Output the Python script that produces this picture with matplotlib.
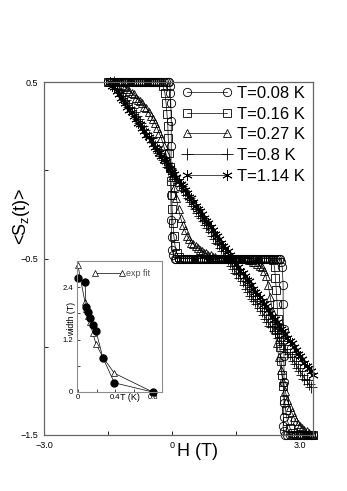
import numpy as np
import matplotlib
matplotlib.use('Agg')
from matplotlib import pyplot as plt
from matplotlib.ticker import FixedLocator

plt.rcParams['font.family'] = ['Liberation Sans', 'DejaVu Sans']
plt.rcParams['axes.unicode_minus'] = True

# ---- main panel data: <Sz(t)> vs H (T) ----
labels = ['T=0.08 K', 'T=0.16 K', 'T=0.27 K', 'T=0.8 K', 'T=1.14 K']

# field sweep points (T)
h_grid = [-1.5, -1.45, -1.4, -1.35, -1.3, -1.25, -1.2, -1.15, -1.1, -1.05,
          -1.0, -0.95, -0.9, -0.85, -0.8, -0.75, -0.7, -0.65, -0.6, -0.55,
          -0.5, -0.45, -0.4, -0.35, -0.3, -0.25, -0.2, -0.15, -0.1, -0.05,
          0.0, 0.05, 0.1, 0.15, 0.2, 0.25, 0.3, 0.35, 0.4, 0.45,
          0.5, 0.55, 0.6, 0.65, 0.7, 0.75, 0.8, 0.85, 0.9, 0.95,
          1.0, 1.05, 1.1, 1.15, 1.2, 1.25, 1.3, 1.35, 1.4, 1.45,
          1.5, 1.55, 1.6, 1.65, 1.7, 1.75, 1.8, 1.85, 1.9, 1.95,
          2.0, 2.05, 2.1, 2.15, 2.2, 2.25, 2.3, 2.35, 2.4, 2.45,
          2.5, 2.55, 2.6, 2.65, 2.7, 2.75, 2.8, 2.85, 2.9, 2.95,
          3.0, 3.05, 3.1, 3.15, 3.2, 3.25, 3.3]

# T = 0.08 K : flat parts on the sweep + points on the two steps
step1_h_008 = [-0.07, -0.05, -0.04, -0.03, -0.02, -0.02, -0.03, -0.03, -0.02, -0.01, 0.0, 0.03, 0.06]
step1_s_008 = [0.5, 0.48, 0.44, 0.38, 0.28, 0.14, 0.0, -0.14, -0.28, -0.38, -0.45, -0.48, -0.5]
step2_h_008 = [2.53, 2.56, 2.58, 2.6, 2.6, 2.61, 2.62, 2.62, 2.62, 2.61, 2.6, 2.61, 2.64]
step2_s_008 = [-0.5, -0.52, -0.55, -0.65, -0.76, -0.9, -1.05, -1.2, -1.32, -1.4, -1.45, -1.48, -1.5]
h_008 = h_grid[0:29] + step1_h_008 + h_grid[32:81] + step2_h_008 + h_grid[84:97]
s_008 = [0.5] * 29 + step1_s_008 + [-0.5] * 49 + step2_s_008 + [-1.5] * 13

# T = 0.16 K
step1_h_016 = [-0.22, -0.17, -0.14, -0.12, -0.1, -0.09, -0.07, -0.05, -0.03, -0.01, 0.0, 0.02,
               0.04, 0.07, 0.11, 0.16]
step1_s_016 = [0.48, 0.44, 0.38, 0.32, 0.25, 0.18, 0.1, 0.02, -0.06, -0.14, -0.22, -0.3,
               -0.37, -0.43, -0.47, -0.49]
step2_h_016 = [2.36, 2.4, 2.42, 2.44, 2.46, 2.48, 2.5, 2.52, 2.55, 2.58, 2.6, 2.63, 2.66, 2.7,
               2.76, 2.83]
step2_s_016 = [-0.51, -0.55, -0.61, -0.68, -0.76, -0.84, -0.92, -1.0, -1.08, -1.16, -1.22,
               -1.3, -1.36, -1.42, -1.46, -1.49]
h_016 = h_grid[0:25] + step1_h_016 + h_grid[34:77] + step2_h_016 + h_grid[88:97]
s_016 = [0.5] * 25 + step1_s_016 + [-0.5] * 43 + step2_s_016 + [-1.5] * 9

# T = 0.27 K  (H from -1.2 to 3.3)
h_027 = h_grid[6:97]
s_027 = [0.50, 0.48, 0.47, 0.46, 0.45, 0.44, 0.43, 0.41, 0.40, 0.39,
         0.38, 0.36, 0.35, 0.33, 0.31, 0.29, 0.27, 0.24, 0.21, 0.18,
         0.14, 0.10, 0.05, 0.01, -0.04, -0.10, -0.16, -0.22, -0.27, -0.31,
         -0.34, -0.37, -0.39, -0.41, -0.42, -0.43, -0.44, -0.45, -0.46, -0.47,
         -0.47, -0.48, -0.48, -0.49, -0.49,
         -0.5, -0.5, -0.5, -0.5, -0.5, -0.5, -0.5, -0.5, -0.5, -0.5, -0.5, -0.5, -0.5, -0.5, -0.5,
         -0.51, -0.51, -0.52, -0.52, -0.53, -0.54, -0.55, -0.57, -0.60, -0.65,
         -0.72, -0.80, -0.90, -0.98, -1.06, -1.13, -1.20, -1.25, -1.30, -1.34,
         -1.37, -1.40, -1.42, -1.44, -1.45, -1.46, -1.47, -1.48, -1.49, -1.50, -1.50]

# T = 0.8 K  (H from -1.35 to 3.25)
h_08 = h_grid[3:96]
s_08 = [0.50, 0.48, 0.46, 0.44, 0.42, 0.40, 0.38, 0.36, 0.35, 0.33,
        0.31, 0.29, 0.27, 0.25, 0.23, 0.21, 0.19, 0.18, 0.16, 0.14,
        0.12, 0.10, 0.08, 0.06, 0.04, 0.02, 0.01, -0.01, -0.03, -0.05,
        -0.07, -0.09, -0.11, -0.12, -0.14, -0.16, -0.18, -0.20, -0.22, -0.24,
        -0.26, -0.27, -0.29, -0.31, -0.33, -0.35, -0.37, -0.39, -0.41, -0.42,
        -0.44, -0.46, -0.48, -0.50, -0.52, -0.54, -0.56, -0.58, -0.59, -0.61,
        -0.63, -0.65, -0.67, -0.69, -0.71, -0.73, -0.74, -0.76, -0.78, -0.80,
        -0.82, -0.84, -0.86, -0.88, -0.89, -0.91, -0.93, -0.95, -0.97, -0.99,
        -1.01, -1.03, -1.04, -1.06, -1.08, -1.10, -1.12, -1.14, -1.16, -1.18,
        -1.19, -1.21, -1.23]

# T = 1.14 K  (H from -1.45 to 3.3)
h_114 = h_grid[1:97]
s_114 = [0.50, 0.48, 0.47, 0.45, 0.43, 0.41, 0.40, 0.38, 0.36, 0.34,
         0.33, 0.31, 0.29, 0.27, 0.26, 0.24, 0.22, 0.20, 0.19, 0.17,
         0.15, 0.13, 0.12, 0.10, 0.08, 0.06, 0.05, 0.03, 0.01, -0.01,
         -0.02, -0.04, -0.06, -0.08, -0.09, -0.11, -0.13, -0.15, -0.16, -0.18,
         -0.20, -0.22, -0.23, -0.25, -0.27, -0.29, -0.30, -0.32, -0.34, -0.36,
         -0.37, -0.39, -0.41, -0.43, -0.44, -0.46, -0.48, -0.50, -0.51, -0.53,
         -0.55, -0.57, -0.58, -0.60, -0.62, -0.63, -0.65, -0.67, -0.69, -0.70,
         -0.72, -0.74, -0.76, -0.77, -0.79, -0.81, -0.83, -0.84, -0.86, -0.88,
         -0.90, -0.91, -0.93, -0.95, -0.97, -0.98, -1.00, -1.02, -1.04, -1.05,
         -1.07, -1.09, -1.11, -1.12, -1.14, -1.16]

# ---- inset data: width (T) vs T (K) ----
t_width = [0.0, 0.076, 0.087, 0.111, 0.13, 0.158, 0.194, 0.266, 0.39, 0.8]
width = [2.6, 2.52, 1.95, 1.84, 1.69, 1.53, 1.4, 0.79, 0.21, 0.0]
t_fit = [0.0, 0.076, 0.087, 0.111, 0.13, 0.158, 0.194, 0.266, 0.39, 0.8]
width_fit = [2.9, 2.05, 1.9, 1.75, 1.6, 1.35, 1.1, 0.8, 0.43, 0.0]

W, H = 347, 491
fig = plt.figure(figsize=(W / 100, H / 100), dpi=100)
ax = fig.add_axes([44 / W, 1 - 435 / H, 269 / W, 353 / H])

curves = [(h_008, s_008, 'o', 6.0), (h_016, s_016, 's', 5.2), (h_027, s_027, '^', 5.5),
          (h_08, s_08, '+', 8.0), (h_114, s_114, (6, 2, 0), 7.5)]
for (hx, sy, mk, ms), lab in zip(curves, labels):
    ax.plot(hx, sy, color='k', lw=0.5, marker=mk, ms=ms, mfc='none', mec='k', mew=0.6,
            label=lab, clip_on=False)

ax.set_xlim(-3.0, 3.3)
ax.set_ylim(-1.5, 0.5)
ax.xaxis.set_major_locator(FixedLocator([-3.0, 0.0, 3.0]))
ax.xaxis.set_minor_locator(FixedLocator([-1.5, 1.5]))
ax.yaxis.set_major_locator(FixedLocator([0.5, -0.5, -1.5]))
ax.yaxis.set_minor_locator(FixedLocator([0.0, -1.0]))
ax.set_xticklabels(['\u22123.0', '0', '3.0'])
ax.set_yticklabels(['0.5', '\u22120.5', '\u22121.5'])
ax.tick_params(which='both', direction='in', length=3, width=0.6, labelsize=6.5, pad=4)
for sp in ax.spines.values():
    sp.set_linewidth(0.9)
    sp.set_color('0.4')

ax.set_xlabel('H (T)', fontsize=13)
ax.xaxis.set_label_coords(0.572, -0.022)
ax.set_ylabel(r'<S$_\mathregular{z}$(t)>', fontsize=13)
ax.yaxis.set_label_coords(-0.045, 0.62)

ax.legend(loc='upper left', bbox_to_anchor=(0.513, 0.989), frameon=False, fontsize=12,
          numpoints=2, handlelength=3.0, handletextpad=0.3, labelspacing=0.34,
          borderpad=0, borderaxespad=0)

# ---- inset ----
ins = fig.add_axes([77 / W, 1 - 392 / H, 85 / W, 131 / H])
ins.plot(t_fit, width_fit, color='k', lw=0.5, marker='^', ms=4.5, mfc='white', mec='k',
         mew=0.5, label='exp fit', clip_on=False)
ins.plot(t_width, width, color='k', lw=0.5, marker='o', ms=5, mfc='k', mec='k',
         clip_on=False)
ins.set_xlim(-0.01, 0.9)
ins.set_ylim(0, 3.0)
ins.xaxis.set_major_locator(FixedLocator([0, 0.4, 0.8]))
ins.xaxis.set_minor_locator(FixedLocator([0.2, 0.6]))
ins.yaxis.set_major_locator(FixedLocator([0, 1.2, 2.4]))
ins.yaxis.set_minor_locator(FixedLocator([0.6, 1.8]))
ins.set_xticklabels(['0', '0.4', '0.8'])
ins.set_yticklabels(['0', '1.2', '2.4'])
ins.tick_params(which='both', direction='in', length=2, width=0.5, labelsize=5.5)
ins.tick_params(axis='x', pad=1.5)
ins.tick_params(axis='y', pad=3)
for sp in ins.spines.values():
    sp.set_linewidth(0.8)
    sp.set_color('0.55')
ins.set_xlabel('T (K)', fontsize=6.5)
ins.xaxis.set_label_coords(0.62, -0.01)
ins.set_ylabel('width (T)', fontsize=6.3)
ins.yaxis.set_label_coords(-0.01, 0.56)
ins.legend(loc='upper left', bbox_to_anchor=(0.18, 0.94), frameon=False, fontsize=6.5,
           numpoints=2, handlelength=3.6, handletextpad=0.1, borderpad=0, borderaxespad=0,
           labelcolor='0.3')

fig.savefig('out.png', dpi=100)
